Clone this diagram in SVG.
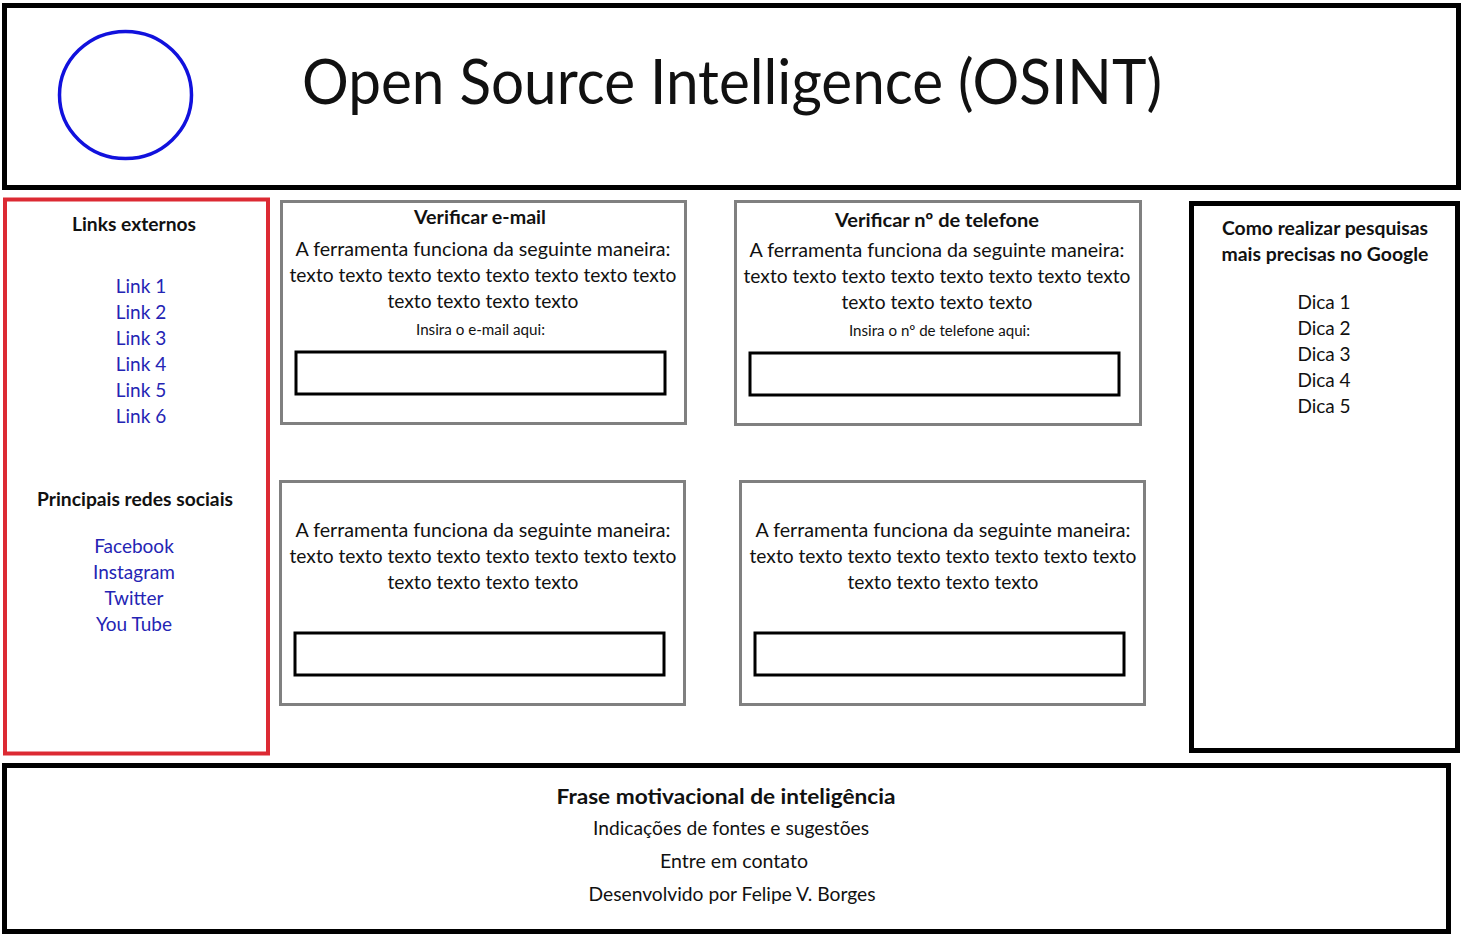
<svg xmlns="http://www.w3.org/2000/svg" width="1465" height="940" viewBox="0 0 1465 940">
<style>
text{font-family:Lato,"Open Sans","Liberation Sans",sans-serif;fill:#111;text-anchor:middle}
.b{font-weight:bold}
.t{font-size:20px}
.s{font-size:14.5px}
.h{font-size:19px;font-weight:bold}
.l{font-size:19px;fill:#2424b4}
.d{font-size:19px}
.blk{fill:#fff;stroke:#000;stroke-width:5}
.gry{fill:#fff;stroke:#808080;stroke-width:3}
.inp{fill:#fff;stroke:#000;stroke-width:3}
</style>
<rect width="1465" height="940" fill="#fff"/>
<g id="header">
<rect class="blk" x="4.5" y="5.5" width="1454" height="182"/>
<ellipse cx="125.5" cy="95" rx="66" ry="63.5" fill="none" stroke="#1111dd" stroke-width="3.5"/>
<text x="732" y="104" style="font-size:62px" textLength="860" lengthAdjust="spacingAndGlyphs">Open Source Intelligence (OSINT)</text>
</g>
<g id="links">
<rect x="5" y="199.5" width="263" height="554" fill="#fff" stroke="#dc2a33" stroke-width="4"/>
<text class="h" x="134" y="231" textLength="124" lengthAdjust="spacingAndGlyphs">Links externos</text>
<text class="l" x="141" y="293">Link 1</text>
<text class="l" x="141" y="319">Link 2</text>
<text class="l" x="141" y="345">Link 3</text>
<text class="l" x="141" y="371">Link 4</text>
<text class="l" x="141" y="397">Link 5</text>
<text class="l" x="141" y="423">Link 6</text>
<text class="h" x="135" y="506" textLength="196" lengthAdjust="spacingAndGlyphs">Principais redes sociais</text>
<text class="l" x="134" y="553">Facebook</text>
<text class="l" x="134" y="579">Instagram</text>
<text class="l" x="134" y="605">Twitter</text>
<text class="l" x="134" y="631">You Tube</text>
</g>
<g id="email">
<rect class="gry" x="281.5" y="201.5" width="404" height="222"/>
<text class="h" x="480" y="224" textLength="132" lengthAdjust="spacingAndGlyphs">Verificar e-mail</text>
<text class="t" x="483" y="256" textLength="375" lengthAdjust="spacingAndGlyphs">A ferramenta funciona da seguinte maneira:</text>
<text class="t" x="483" y="282" textLength="387" lengthAdjust="spacingAndGlyphs">texto texto texto texto texto texto texto texto</text>
<text class="t" x="483" y="308" textLength="191" lengthAdjust="spacingAndGlyphs">texto texto texto texto</text>
<text class="s" x="480.5" y="335" textLength="129" lengthAdjust="spacingAndGlyphs">Insira o e-mail aqui:</text>
<rect class="inp" x="296" y="352" width="369" height="42"/>
</g>
<g id="phone">
<rect class="gry" x="735.5" y="201.5" width="405" height="223"/>
<text class="h" x="937" y="227" textLength="204" lengthAdjust="spacingAndGlyphs">Verificar nº de telefone</text>
<text class="t" x="937" y="257" textLength="375" lengthAdjust="spacingAndGlyphs">A ferramenta funciona da seguinte maneira:</text>
<text class="t" x="937" y="283" textLength="387" lengthAdjust="spacingAndGlyphs">texto texto texto texto texto texto texto texto</text>
<text class="t" x="937" y="309" textLength="191" lengthAdjust="spacingAndGlyphs">texto texto texto texto</text>
<text class="s" x="939.5" y="336" textLength="181" lengthAdjust="spacingAndGlyphs">Insira o nº de telefone aqui:</text>
<rect class="inp" x="750" y="353" width="369" height="42"/>
</g>
<g id="tool3">
<rect class="gry" x="280.5" y="481.5" width="404" height="223"/>
<text class="t" x="483" y="537" textLength="375" lengthAdjust="spacingAndGlyphs">A ferramenta funciona da seguinte maneira:</text>
<text class="t" x="483" y="563" textLength="387" lengthAdjust="spacingAndGlyphs">texto texto texto texto texto texto texto texto</text>
<text class="t" x="483" y="589" textLength="191" lengthAdjust="spacingAndGlyphs">texto texto texto texto</text>
<rect class="inp" x="295" y="633" width="369" height="42"/>
</g>
<g id="tool4">
<rect class="gry" x="740.5" y="481.5" width="404" height="223"/>
<text class="t" x="943" y="537" textLength="375" lengthAdjust="spacingAndGlyphs">A ferramenta funciona da seguinte maneira:</text>
<text class="t" x="943" y="563" textLength="387" lengthAdjust="spacingAndGlyphs">texto texto texto texto texto texto texto texto</text>
<text class="t" x="943" y="589" textLength="191" lengthAdjust="spacingAndGlyphs">texto texto texto texto</text>
<rect class="inp" x="755" y="633" width="369" height="42"/>
</g>
<g id="tips">
<rect class="blk" x="1191.5" y="203.5" width="266" height="547"/>
<text class="h" x="1325" y="235" textLength="206" lengthAdjust="spacingAndGlyphs">Como realizar pesquisas</text>
<text class="h" x="1325" y="261" textLength="207" lengthAdjust="spacingAndGlyphs">mais precisas no Google</text>
<text class="d" x="1324" y="309">Dica 1</text>
<text class="d" x="1324" y="335">Dica 2</text>
<text class="d" x="1324" y="361">Dica 3</text>
<text class="d" x="1324" y="387">Dica 4</text>
<text class="d" x="1324" y="413">Dica 5</text>
</g>
<g id="footer">
<rect class="blk" x="4.5" y="765.5" width="1444" height="166"/>
<text class="b" x="726" y="804" style="font-size:21px" textLength="339" lengthAdjust="spacingAndGlyphs">Frase motivacional de inteligência</text>
<text class="d" x="731" y="835" textLength="276" lengthAdjust="spacingAndGlyphs">Indicações de fontes e sugestões</text>
<text class="d" x="734" y="868" textLength="148" lengthAdjust="spacingAndGlyphs">Entre em contato</text>
<text class="d" x="732" y="901" textLength="287" lengthAdjust="spacingAndGlyphs">Desenvolvido por Felipe V. Borges</text>
</g>
<g id="connectors"/>
</svg>
